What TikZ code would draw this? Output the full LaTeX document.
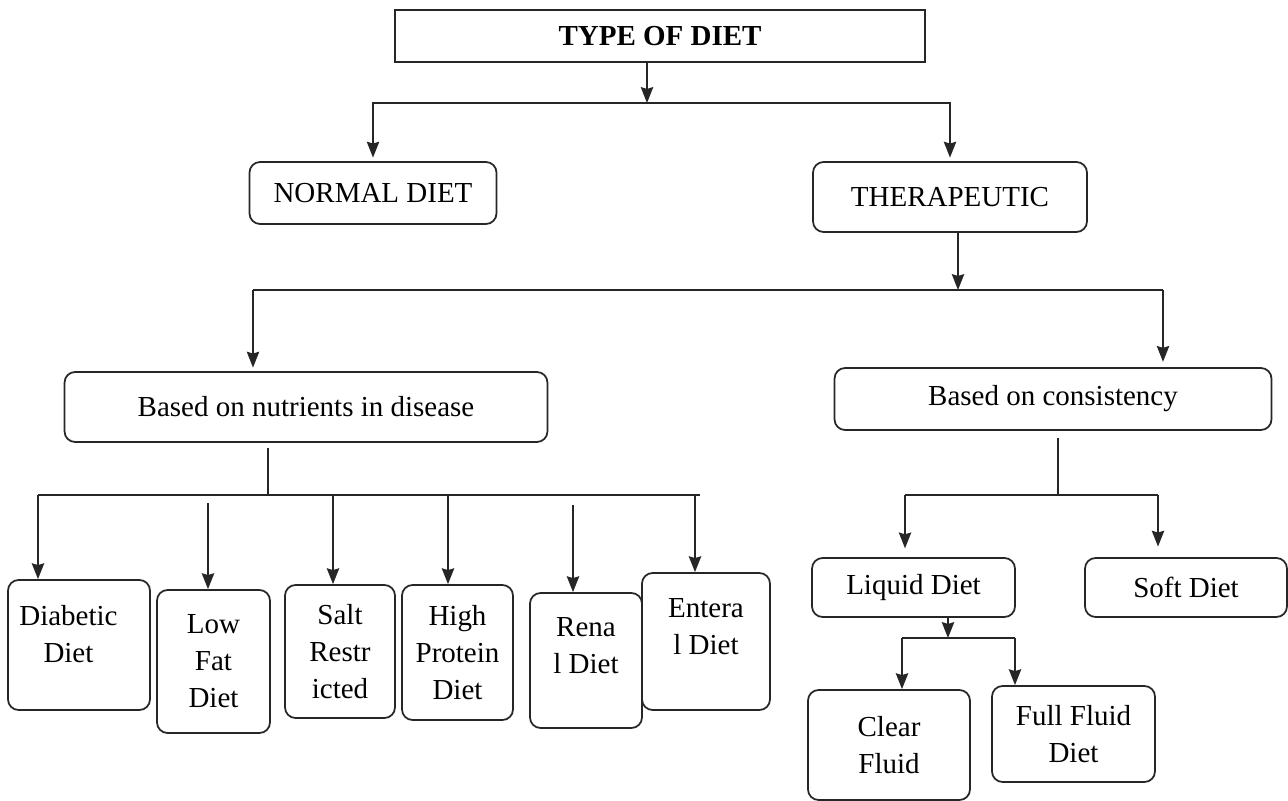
\documentclass[tikz,border=0pt]{standalone}
\usepackage{fontspec}
\setmainfont{Liberation Serif}
\usetikzlibrary{arrows.meta}

\tikzset{
  txt/.style={align=center, font=\fontsize{16.5}{21}\selectfont},
  box/.style={txt, draw=black!85, line width=1pt, rounded corners=6pt, inner sep=0pt},
  arr/.style={draw=black!85, line width=1.1pt, -{Stealth[length=9pt,width=7pt,inset=1pt]}},
  stem/.style={draw=black!85, line width=1pt},
}

\begin{document}
\begin{tikzpicture}[x=0.02cm, y=-0.02cm]
    \useasboundingbox (0,0) rectangle (1288,801);
    % 見出し
    \node[box, rounded corners=0pt, minimum width=10.6cm, minimum height=1.04cm,
          font=\fontsize{16.5}{21}\selectfont\bfseries] (title) at (660,36) {TYPE OF DIET};

    % 第一段
    \node[box, minimum width=4.94cm, minimum height=1.24cm] (normal) at (373,193) {NORMAL DIET};
    \node[box, minimum width=5.48cm, minimum height=1.4cm] (thera) at (950,197) {THERAPEUTIC};

    % 第二段
    \node[box, minimum width=9.66cm, minimum height=1.4cm] (nutr) at (306,407) {Based on nutrients in disease};
    \node[box, minimum width=8.74cm, minimum height=1.24cm] (cons) at (1053,399) {Based on consistency};

    % 疾病別の食事
    \node[box, minimum width=2.84cm, minimum height=2.6cm,
          label={[txt, xshift=-6pt, yshift=6pt]center:{Diabetic\\Diet}}] (diab) at (79,645) {};
    \node[box, minimum width=2.26cm, minimum height=2.86cm] (lowfat) at (213.5,661.5) {Low\\Fat\\Diet};
    \node[box, minimum width=2.2cm, minimum height=2.66cm] (salt) at (340,651.5) {Salt\\Restr\\icted};
    \node[box, minimum width=2.22cm, minimum height=2.7cm] (high) at (457.5,652.5) {High\\Protein\\Diet};
    \node[box, minimum width=2.24cm, minimum height=2.7cm,
          label={[txt, yshift=8.5pt]center:{Rena\\l Diet}}] (renal) at (586,660.5) {};
    \node[box, minimum width=2.56cm, minimum height=2.74cm,
          label={[txt, yshift=8.5pt]center:{Entera\\l Diet}}] (enteral) at (706,641.5) {};

    % 硬さ別の食事
    \node[box, minimum width=4.06cm, minimum height=1.18cm] (liquid) at (913.5,587.5) {Liquid Diet};
    \node[box, minimum width=4.04cm, minimum height=1.18cm] (soft) at (1186,587.5) {Soft Diet};
    \node[box, minimum width=3.24cm, minimum height=2.2cm] (clear) at (889,745) {Clear\\Fluid};
    \node[box, minimum width=3.26cm, minimum height=1.92cm] (full) at (1073.5,734) {Full Fluid\\Diet};

    % 矢印（第一段）
    \coordinate (j1) at (647,103);
    \draw[arr] (title.south -| j1) -- (j1);
    \draw[arr, shorten >=2pt] (j1) -| (normal.north);
    \draw[arr, shorten >=2pt] (j1) -| (thera.north);

    % 矢印（第二段）
    \coordinate (j2) at (958,290);
    \coordinate (j2l) at (253,290);
    \coordinate (j2r) at (1163,290);
    \draw[arr] (thera.south -| j2) -- (j2);
    \draw[stem] (j2l) -- (j2r);
    \draw[arr, shorten >=2pt] (j2l) -- (j2l |- nutr.north);
    \draw[arr, shorten >=3pt] (j2r) -- (j2r |- cons.north);

    % 矢印（疾病別）
    \coordinate (j3) at (268,495);
    \coordinate (j3l) at (38,495);
    \coordinate (j3r) at (700,495);
    \draw[stem, shorten <=3pt] (nutr.south -| j3) -- (j3);
    \draw[stem] (j3l) -- (j3r);
    \foreach \n/\x/\s in {diab/38/0pt, lowfat/208/4.5pt, salt/333/0pt, high/448/0pt, renal/573/5.5pt, enteral/695/0pt} {
        \coordinate (t) at (\x,495);
        \draw[arr, shorten <=\s] (t) -- (t |- \n.north);
    }

    % 矢印（硬さ別）
    \coordinate (j4) at (1058,495);
    \coordinate (j4l) at (905,495);
    \coordinate (j4r) at (1158,495);
    \draw[stem, shorten <=4pt] (cons.south -| j4) -- (j4);
    \draw[stem] (j4l) -- (j4r);
    \draw[arr, shorten >=5pt] (j4l) -- (j4l |- liquid.north);
    \draw[arr, shorten >=6pt] (j4r) -- (j4r |- soft.north);

    % 矢印（流動食）
    \coordinate (j5) at (948,638);
    \coordinate (j5l) at (902,638);
    \coordinate (j5r) at (1015,638);
    \draw[arr] (liquid.south -| j5) -- (j5);
    \draw[stem] (j5l) -- (j5r);
    \draw[arr] (j5l) -- (j5l |- clear.north);
    \draw[arr] (j5r) -- (j5r |- full.north);
\end{tikzpicture}
\end{document}
